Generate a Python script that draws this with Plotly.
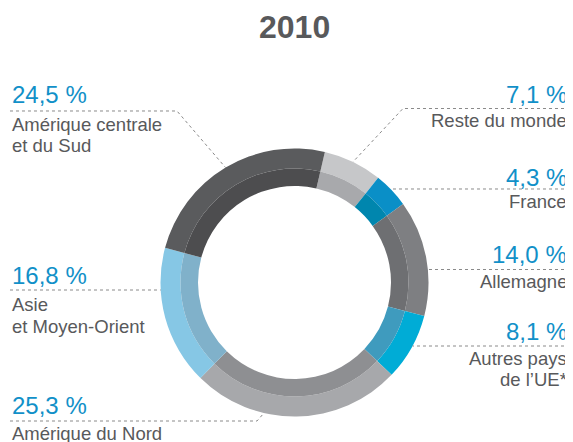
import math
import plotly.graph_objects as go

# ---------------- data ----------------
regions = ["Reste du monde", "France", "Allemagne", "Autres pays de l’UE*",
           "Amérique du Nord", "Asie et Moyen-Orient", "Amérique centrale et du Sud"]
shares = [7.1, 4.3, 14.0, 8.1, 25.3, 16.8, 24.5]
label_lines = [["Reste du monde"], ["France"], ["Allemagne"], ["Autres pays", "de l’UE*"],
               ["Amérique du Nord"], ["Asie", "et Moyen-Orient"], ["Amérique centrale", "et du Sud"]]
title_text = "2010"

# ---------------- style ----------------
outer_colors = ["#c6c7c9", "#0a8fc7", "#7e7f82", "#00acd6", "#a7a8ab", "#86c7e5", "#5a5b5d"]
inner_colors = ["#a8a9ac", "#0086ae", "#6e6f72", "#3f9bbe", "#8e8f92", "#80b1ca", "#4d4d4f"]
W, H = 573, 442
OFF = 8                        # page body margin compensation
CX, CY = 294.5, 282.5          # donut centre (px, page coords)
R_OUT, R_MID, R_IN = 134, 114, 96.5
START_DEG = 13.1               # first slice starts here (clockwise from 12 o'clock)
FONT = "Liberation Sans, Arial, Helvetica, sans-serif"
GRAY = "#58595b"
BLUE = "#1190c8"
LEAD = "#8a8a8a"


def px(x):
    return (x - OFF) / W


def py(y):
    return 1 - (y - OFF) / H


def dom(r):
    return dict(x=[px(CX - r), px(CX + r)], y=[py(CY + r), py(CY - r)])


fig = go.Figure()
fig.add_trace(go.Pie(labels=regions, values=shares, sort=False, direction="clockwise",
                     rotation=START_DEG, hole=R_MID / R_OUT, domain=dom(R_OUT),
                     marker=dict(colors=outer_colors, line=dict(width=0)),
                     textinfo="none", hoverinfo="label+percent", showlegend=False))
fig.add_trace(go.Pie(labels=regions, values=shares, sort=False, direction="clockwise",
                     rotation=START_DEG, hole=R_IN / R_MID, domain=dom(R_MID),
                     marker=dict(colors=inner_colors, line=dict(width=0)),
                     textinfo="none", hoverinfo="label+percent", showlegend=False))

# label layout: side, percent centre y, first label line centre y, line y, line spacing, leader mode
layout_spec = {
    "Reste du monde": ("right", 95, 121, 108.5, 20, "mid"),
    "France": ("right", 177, 201.5, 189, 20, "edge"),
    "Allemagne": ("right", 254.5, 281, 269.5, 20, "edge"),
    "Autres pays de l’UE*": ("right", 331, 358.5, 346, 20.5, "edge"),
    "Amérique du Nord": ("left", 405, 433, 421, 20, "nord"),
    "Asie et Moyen-Orient": ("left", 275, 304.5, 290, 21.5, "edge"),
    "Amérique centrale et du Sud": ("left", 94.5, 125, 111, 20, "mid"),
}

total = sum(shares)
ann = []
shapes = []
angle = START_DEG
for reg, val, lines in zip(regions, shares, label_lines):
    a0 = angle
    a1 = angle + val / total * 360
    angle = a1
    mid = math.radians((a0 + a1) / 2)
    side, yp, yl, yline, dl, mode = layout_spec[reg]
    xt = 569 if side == "right" else 10
    anchor = side
    pct = f"{val:.1f} %".replace(".", ",")
    ann.append(dict(x=px(xt), y=py(yp), xref="paper", yref="paper", text=pct, showarrow=False,
                    xanchor=anchor, yanchor="middle", font=dict(family=FONT, size=24, color=BLUE)))
    for i, ln in enumerate(lines):
        ann.append(dict(x=px(xt), y=py(yl + i * dl), xref="paper", yref="paper", text=ln,
                        showarrow=False, xanchor=anchor, yanchor="middle",
                        font=dict(family=FONT, size=18.5, color=GRAY)))
    # leader line
    if mode == "mid":
        ex = CX + R_OUT * math.sin(mid)
        ey = CY - R_OUT * math.cos(mid)
        kx = 403 if side == "right" else 177
        pts = [(xt + (1 if side == "right" else 0), yline), (kx, yline), (ex, ey)]
    elif mode == "edge":
        dy = yline - CY
        dx = math.sqrt(max(R_OUT ** 2 - dy ** 2, 0))
        ex = CX + dx if side == "right" else CX - dx
        pts = [(xt + (1 if side == "right" else 0), yline), (ex, yline)]
    else:
        pts = [(xt, yline), (257, yline), (264, 413)]
    path = "M " + " L ".join(f"{px(x):.5f},{py(y):.5f}" for x, y in pts)
    shapes.append(dict(type="path", path=path, xref="paper", yref="paper",
                       line=dict(color=LEAD, width=1, dash="dot")))

ann.append(dict(x=px(294), y=py(27), xref="paper", yref="paper", text=f"<b>{title_text}</b>",
                showarrow=False, xanchor="center", yanchor="middle",
                font=dict(family=FONT, size=32, color=GRAY)))

fig.update_layout(width=W, height=H, margin=dict(l=0, r=0, t=0, b=0),
                  paper_bgcolor="white", plot_bgcolor="white",
                  annotations=ann, shapes=shapes, showlegend=False)
fig.write_html("out.html")
